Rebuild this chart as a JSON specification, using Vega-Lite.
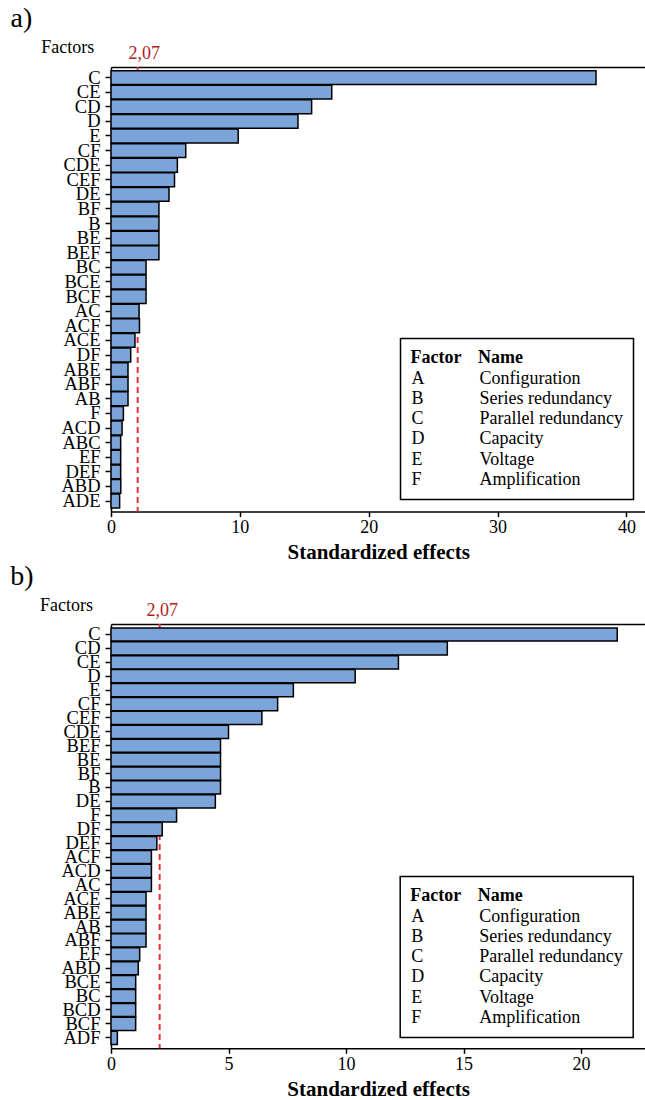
{
  "$schema": "https://vega.github.io/schema/vega-lite/v6.json",
  "padding": {"left": 10, "top": 5, "right": 0, "bottom": 0},
  "spacing": 0,
  "resolve": {"scale": {"color": "independent"}, "legend": {"color": "independent"}},
  "config": {
    "font": "Liberation Serif",
    "view": {"stroke": null},
    "axis": {"labelFont": "Liberation Serif", "titleFont": "Liberation Serif", "labelColor": "black", "titleColor": "black", "domainColor": "black", "tickColor": "black", "domainWidth": 1.5, "tickWidth": 1.5, "grid": false, "labelFontSize": 18, "labelFlush": false},
    "legend": {"labelFont": "Liberation Serif", "titleFont": "Liberation Serif", "strokeWidth": 1.5},
    "title": {"font": "Liberation Serif", "fontSize": 28, "fontWeight": "normal", "anchor": "start", "color": "black"}
  },
  "datasets": {
    "effectsA": [
      {"Factor": "C", "Effect": 37.64}, {"Factor": "CE", "Effect": 17.13}, {"Factor": "CD", "Effect": 15.57},
      {"Factor": "D", "Effect": 14.51}, {"Factor": "E", "Effect": 9.87}, {"Factor": "CF", "Effect": 5.8},
      {"Factor": "CDE", "Effect": 5.15}, {"Factor": "CEF", "Effect": 4.93}, {"Factor": "DE", "Effect": 4.5},
      {"Factor": "BF", "Effect": 3.72}, {"Factor": "B", "Effect": 3.72}, {"Factor": "BE", "Effect": 3.72},
      {"Factor": "BEF", "Effect": 3.72}, {"Factor": "BC", "Effect": 2.72}, {"Factor": "BCE", "Effect": 2.72},
      {"Factor": "BCF", "Effect": 2.72}, {"Factor": "AC", "Effect": 2.18}, {"Factor": "ACF", "Effect": 2.21},
      {"Factor": "ACE", "Effect": 1.86}, {"Factor": "DF", "Effect": 1.53}, {"Factor": "ABE", "Effect": 1.32},
      {"Factor": "ABF", "Effect": 1.32}, {"Factor": "AB", "Effect": 1.32}, {"Factor": "F", "Effect": 0.96},
      {"Factor": "ACD", "Effect": 0.86}, {"Factor": "ABC", "Effect": 0.75}, {"Factor": "EF", "Effect": 0.75},
      {"Factor": "DEF", "Effect": 0.75}, {"Factor": "ABD", "Effect": 0.76}, {"Factor": "ADE", "Effect": 0.67}
    ],
    "effectsB": [
      {"Factor": "C", "Effect": 21.54}, {"Factor": "CD", "Effect": 14.31}, {"Factor": "CE", "Effect": 12.23},
      {"Factor": "D", "Effect": 10.39}, {"Factor": "E", "Effect": 7.76}, {"Factor": "CF", "Effect": 7.09},
      {"Factor": "CEF", "Effect": 6.42}, {"Factor": "CDE", "Effect": 5.0}, {"Factor": "BEF", "Effect": 4.66},
      {"Factor": "BE", "Effect": 4.66}, {"Factor": "BF", "Effect": 4.66}, {"Factor": "B", "Effect": 4.66},
      {"Factor": "DE", "Effect": 4.44}, {"Factor": "F", "Effect": 2.79}, {"Factor": "DF", "Effect": 2.18},
      {"Factor": "DEF", "Effect": 1.95}, {"Factor": "ACF", "Effect": 1.72}, {"Factor": "ACD", "Effect": 1.72},
      {"Factor": "AC", "Effect": 1.72}, {"Factor": "ACE", "Effect": 1.49}, {"Factor": "ABE", "Effect": 1.49},
      {"Factor": "AB", "Effect": 1.49}, {"Factor": "ABF", "Effect": 1.49}, {"Factor": "EF", "Effect": 1.22},
      {"Factor": "ABD", "Effect": 1.16}, {"Factor": "BCE", "Effect": 1.05}, {"Factor": "BC", "Effect": 1.05},
      {"Factor": "BCD", "Effect": 1.05}, {"Factor": "BCF", "Effect": 1.05}, {"Factor": "ADF", "Effect": 0.27}
    ],
    "legendEntries": [
      {"entry": "A"}, {"entry": "B"}, {"entry": "C"}, {"entry": "D"}, {"entry": "E"}, {"entry": "F"},
      {"entry": "Configuration"}, {"entry": "Series redundancy"}, {"entry": "Parallel redundancy"},
      {"entry": "Capacity"}, {"entry": "Voltage"}, {"entry": "Amplification"}
    ],
    "threshold": [{"t": 2.07}]
  },
  "vconcat": [
    {
      "width": 534.5,
      "height": 444.6,
      "title": {"text": "a)", "frame": "group", "dx": -100.5, "offset": 5, "font": "Liberation Serif"},
      "layer": [
        {
          "data": {"name": "threshold"},
          "mark": {"type": "rule", "color": "#E5303A", "strokeDash": [6, 4], "strokeWidth": 2},
          "encoding": {
            "x": {"field": "t", "type": "quantitative", "scale": {"domain": [0, 41.48], "nice": false},
              "axis": {"orient": "top", "values": [2.07], "labelExpr": "'2,07'", "labelColor": "#B22222", "labelFont": "Liberation Serif", "ticks": false, "tickSize": 0, "labelPadding": 5, "labelOffset": 6, "title": null, "labelFontSize": 18}}
          }
        },
        {
          "data": {"name": "effectsA"},
          "mark": {"type": "bar", "fill": "#7BA5D9", "stroke": "black", "strokeWidth": 1.5},
          "encoding": {
            "x": {"field": "Effect", "type": "quantitative", "scale": {"domain": [0, 41.48], "nice": false},
              "axis": {"orient": "bottom", "values": [0, 10, 20, 30, 40], "title": "Standardized effects", "labelFont": "Liberation Serif", "titleFont": "Liberation Serif", "titleFontSize": 21, "titleFontWeight": "bold", "tickSize": 5, "labelPadding": 2, "titlePadding": 5, "labelFlush": false}},
            "y": {"field": "Factor", "type": "nominal", "sort": null, "scale": {"paddingInner": 0.05, "paddingOuter": 0.25},
              "axis": {"title": "Factors", "labelFont": "Liberation Serif", "titleFont": "Liberation Serif", "titleAngle": 0, "titleX": -43.8, "titleY": -20, "titleAlign": "center", "titleBaseline": "middle", "titleFontWeight": "normal", "titleFontSize": 18, "labelFontSize": 18.5, "tickSize": 6, "labelPadding": 5}}
          }
        },
        {
          "data": {"name": "legendEntries"},
          "mark": {"type": "point", "opacity": 0},
          "encoding": {
            "color": {"field": "entry", "type": "nominal",
              "scale": {"domain": ["A", "B", "C", "D", "E", "F", "Configuration", "Series redundancy", "Parallel redundancy", "Capacity", "Voltage", "Amplification"], "range": ["black"]},
              "legend": {"orient": "none", "legendX": 289.5, "legendY": 271.5, "title": "Factor\u00a0\u00a0\u00a0\u2006Name", "titleFontWeight": "bold", "titleFontSize": 18, "titleColor": "black", "titlePadding": 3, "columns": 2, "columnPadding": 54, "rowPadding": 2.3, "symbolSize": 0, "symbolOpacity": 0, "symbolStrokeWidth": 0, "labelOffset": -17, "labelFontSize": 18, "labelColor": "black", "labelLimit": 300, "strokeColor": "black", "padding": 10, "fillColor": "white"}}
          }
        }
      ]
    },
    {
      "width": 534.2,
      "height": 424.3,
      "title": {"text": "b)", "frame": "group", "dx": -100.8, "offset": 5, "font": "Liberation Serif"},
      "layer": [
        {
          "data": {"name": "threshold"},
          "mark": {"type": "rule", "color": "#E5303A", "strokeDash": [6, 4], "strokeWidth": 2},
          "encoding": {
            "x": {"field": "t", "type": "quantitative", "scale": {"domain": [0, 22.73], "nice": false},
              "axis": {"orient": "top", "values": [2.07], "labelExpr": "'2,07'", "labelColor": "#B22222", "labelFont": "Liberation Serif", "ticks": false, "tickSize": 0, "labelPadding": 5, "labelOffset": 2, "title": null, "labelFontSize": 18}}
          }
        },
        {
          "data": {"name": "effectsB"},
          "mark": {"type": "bar", "fill": "#7BA5D9", "stroke": "black", "strokeWidth": 1.5},
          "encoding": {
            "x": {"field": "Effect", "type": "quantitative", "scale": {"domain": [0, 22.73], "nice": false},
              "axis": {"orient": "bottom", "values": [0, 5, 10, 15, 20], "title": "Standardized effects", "labelFont": "Liberation Serif", "titleFont": "Liberation Serif", "titleFontSize": 21, "titleFontWeight": "bold", "tickSize": 5, "labelPadding": 2, "titlePadding": 5, "labelFlush": false}},
            "y": {"field": "Factor", "type": "nominal", "sort": null, "scale": {"paddingInner": 0.05, "paddingOuter": 0.28},
              "axis": {"title": "Factors", "labelFont": "Liberation Serif", "titleFont": "Liberation Serif", "titleAngle": 0, "titleX": -45, "titleY": -19, "titleAlign": "center", "titleBaseline": "middle", "titleFontWeight": "normal", "titleFontSize": 18, "labelFontSize": 18.5, "tickSize": 6, "labelPadding": 5}}
          }
        },
        {
          "data": {"name": "legendEntries"},
          "mark": {"type": "point", "opacity": 0},
          "encoding": {
            "color": {"field": "entry", "type": "nominal",
              "scale": {"domain": ["A", "B", "C", "D", "E", "F", "Configuration", "Series redundancy", "Parallel redundancy", "Capacity", "Voltage", "Amplification"], "range": ["black"]},
              "legend": {"orient": "none", "legendX": 289.2, "legendY": 252.5, "title": "Factor\u00a0\u00a0\u00a0\u2006Name", "titleFontWeight": "bold", "titleFontSize": 18, "titleColor": "black", "titlePadding": 3, "columns": 2, "columnPadding": 54, "rowPadding": 2.3, "symbolSize": 0, "symbolOpacity": 0, "symbolStrokeWidth": 0, "labelOffset": -17, "labelFontSize": 18, "labelColor": "black", "labelLimit": 300, "strokeColor": "black", "padding": 10, "fillColor": "white"}}
          }
        }
      ]
    }
  ]
}
